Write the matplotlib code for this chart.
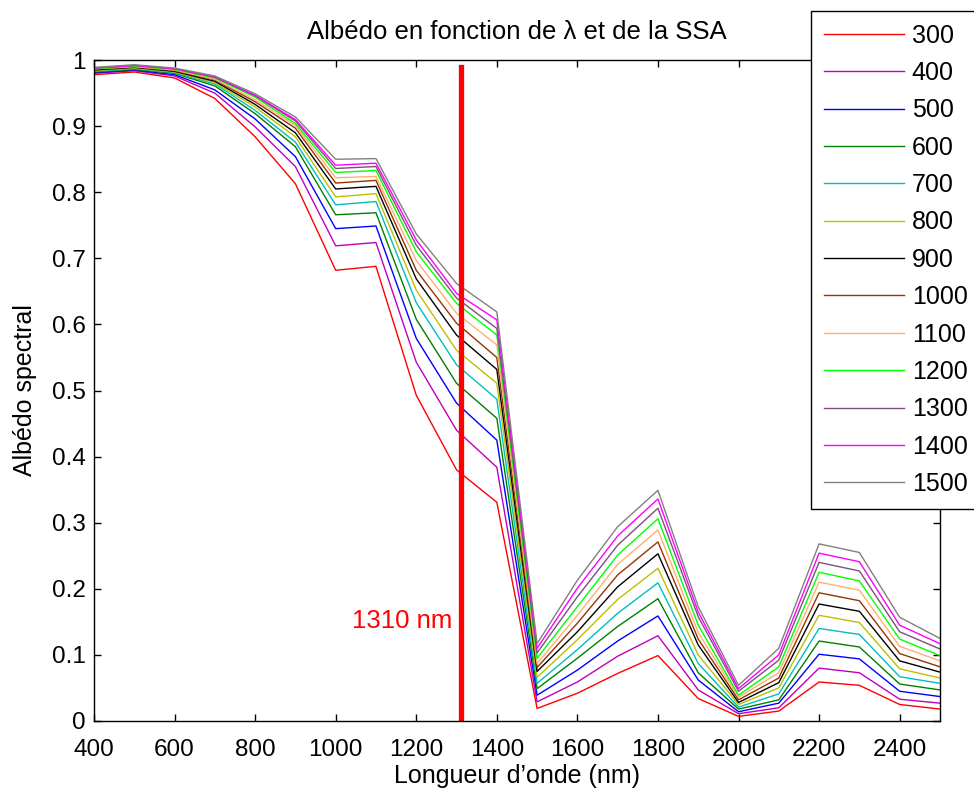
import matplotlib.pyplot as plt

plt.rcParams['font.family'] = ['Liberation Sans', 'DejaVu Sans']

wavelengths = [400, 500, 600, 700, 800, 900, 1000, 1100, 1200, 1300, 1400,
               1500, 1600, 1700, 1800, 1900, 2000, 2100, 2200, 2300, 2400, 2500]
ssa_labels = ['300', '400', '500', '600', '700', '800', '900',
              '1000', '1100', '1200', '1300', '1400', '1500']

# albedo per SSA
albedo_300 = [0.978, 0.982, 0.973, 0.942, 0.884, 0.813, 0.682, 0.688, 0.493, 0.380, 0.331,
              0.019, 0.042, 0.072, 0.099, 0.034, 0.007, 0.015, 0.059, 0.054, 0.025, 0.018]
albedo_400 = [0.980, 0.984, 0.976, 0.950, 0.899, 0.839, 0.719, 0.724, 0.543, 0.440, 0.384,
              0.029, 0.059, 0.098, 0.129, 0.047, 0.011, 0.020, 0.080, 0.073, 0.033, 0.027]
albedo_500 = [0.981, 0.985, 0.978, 0.955, 0.911, 0.854, 0.745, 0.749, 0.579, 0.481, 0.425,
              0.039, 0.077, 0.121, 0.159, 0.062, 0.014, 0.027, 0.101, 0.094, 0.045, 0.037]
albedo_600 = [0.982, 0.986, 0.980, 0.961, 0.919, 0.869, 0.766, 0.769, 0.608, 0.511, 0.458,
              0.049, 0.095, 0.143, 0.185, 0.073, 0.018, 0.032, 0.121, 0.112, 0.056, 0.047]
albedo_700 = [0.983, 0.987, 0.981, 0.964, 0.924, 0.876, 0.781, 0.786, 0.633, 0.539, 0.487,
              0.057, 0.108, 0.163, 0.209, 0.087, 0.021, 0.041, 0.140, 0.131, 0.067, 0.057]
albedo_800 = [0.984, 0.988, 0.982, 0.966, 0.929, 0.884, 0.793, 0.798, 0.652, 0.561, 0.511,
              0.066, 0.123, 0.184, 0.231, 0.100, 0.025, 0.050, 0.160, 0.149, 0.079, 0.065]
albedo_900 = [0.985, 0.989, 0.983, 0.968, 0.933, 0.890, 0.805, 0.809, 0.669, 0.584, 0.532,
              0.075, 0.135, 0.203, 0.253, 0.115, 0.028, 0.058, 0.177, 0.166, 0.091, 0.074]
albedo_1000 = [0.986, 0.990, 0.984, 0.970, 0.937, 0.897, 0.814, 0.818, 0.682, 0.602, 0.550,
               0.081, 0.148, 0.221, 0.271, 0.124, 0.032, 0.065, 0.194, 0.182, 0.102, 0.082]
albedo_1100 = [0.987, 0.990, 0.985, 0.971, 0.940, 0.901, 0.822, 0.824, 0.697, 0.617, 0.569,
               0.087, 0.160, 0.237, 0.289, 0.134, 0.036, 0.073, 0.210, 0.198, 0.113, 0.091]
albedo_1200 = [0.987, 0.991, 0.986, 0.973, 0.944, 0.904, 0.830, 0.833, 0.710, 0.632, 0.584,
               0.095, 0.173, 0.251, 0.306, 0.145, 0.039, 0.082, 0.225, 0.212, 0.124, 0.099]
albedo_1300 = [0.988, 0.992, 0.987, 0.974, 0.946, 0.908, 0.836, 0.839, 0.720, 0.640, 0.594,
               0.103, 0.188, 0.266, 0.322, 0.158, 0.045, 0.092, 0.240, 0.227, 0.135, 0.109]
albedo_1400 = [0.988, 0.992, 0.987, 0.975, 0.947, 0.910, 0.841, 0.844, 0.728, 0.647, 0.607,
               0.110, 0.201, 0.280, 0.336, 0.165, 0.049, 0.100, 0.254, 0.241, 0.145, 0.117]
albedo_1500 = [0.989, 0.993, 0.988, 0.976, 0.949, 0.914, 0.850, 0.851, 0.737, 0.662, 0.619,
               0.117, 0.213, 0.294, 0.349, 0.173, 0.054, 0.110, 0.268, 0.255, 0.157, 0.125]

series = [albedo_300, albedo_400, albedo_500, albedo_600, albedo_700, albedo_800, albedo_900,
          albedo_1000, albedo_1100, albedo_1200, albedo_1300, albedo_1400, albedo_1500]
colors = ['#FF0000', '#BF00BF', '#0000FF', '#008000', '#00BFBF', '#BFBF00', '#000000',
          '#993300', '#FFB070', '#00FF00', '#7F4F7F', '#FF00FF', '#808080']

marker_wavelength = 1310

fig = plt.figure(figsize=(9.74, 7.91), dpi=100)
ax = fig.add_axes([0.0965, 0.0885, 0.8685, 0.8355])

for vals, lab, col in zip(series, ssa_labels, colors):
    ax.plot(wavelengths, vals, color=col, linewidth=1.0, label=lab)

ax.plot([marker_wavelength, marker_wavelength], [0, 0.99], color='#FF0000', linewidth=3.8)
ax.text(marker_wavelength - 20, 0.152, '%d nm' % marker_wavelength, color='#FF0000',
        fontsize=18.5, ha='right', va='center')

ax.set_xlim(400, 2500)
ax.set_ylim(0, 1)
ax.set_xticks(range(400, 2500, 200))
ax.set_yticks([0, 0.1, 0.2, 0.3, 0.4, 0.5, 0.6, 0.7, 0.8, 0.9, 1])
ax.set_yticklabels(['0', '0.1', '0.2', '0.3', '0.4', '0.5', '0.6', '0.7', '0.8', '0.9', '1'])
ax.tick_params(direction='in', top=True, right=True, labelsize=17.5, length=5, width=1)
ax.tick_params(axis='y', pad=6)
ax.tick_params(axis='x', pad=13)
for sp in ax.spines.values():
    sp.set_linewidth(1.0)

ax.set_title('Albédo en fonction de λ et de la SSA', fontsize=18.5, pad=15)
ax.set_xlabel('Longueur d’onde (nm)', fontsize=18, labelpad=2)
ax.set_ylabel('Albédo spectral', fontsize=18, labelpad=11)

leg = fig.legend(loc='upper left', bbox_to_anchor=(0.833, 0.986), fontsize=18,
                 frameon=True, fancybox=False, edgecolor='black', framealpha=1,
                 handlelength=3.2, handletextpad=0.32, labelspacing=0.535, borderpad=0.5,
                 borderaxespad=0)
leg.get_frame().set_linewidth(1.0)

fig.savefig('out.png', dpi=100)
